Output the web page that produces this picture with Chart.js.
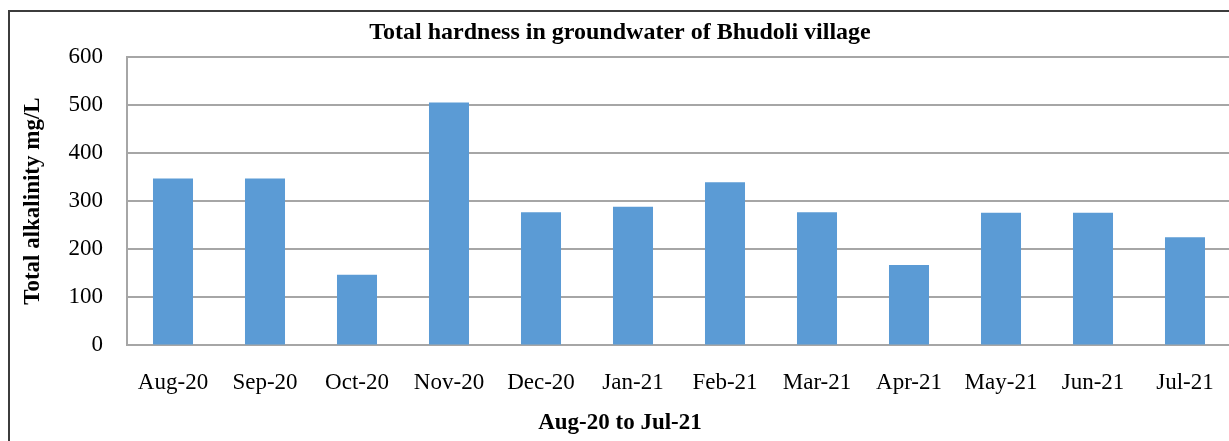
<!DOCTYPE html>
<html>
<head>
<meta charset="utf-8">
<title>Total hardness in groundwater of Bhudoli village</title>
<script src="https://cdn.jsdelivr.net/npm/chart.js@4.4.1/dist/chart.umd.min.js"></script>
<style>
  html, body { margin: 0; padding: 0; background: #fff; overflow: hidden; }
  #wrap { position: absolute; left: 0; top: 0; width: 1248px; height: 441px; }
</style>
</head>
<body>
<div id="wrap"><canvas id="hardnessChart" width="1248" height="441"></canvas></div>
<script>
// data
const months = ["Aug-20", "Sep-20", "Oct-20", "Nov-20", "Dec-20", "Jan-21",
  "Feb-21", "Mar-21", "Apr-21", "May-21", "Jun-21", "Jul-21"];
const hardness = [347, 347, 147, 505, 277, 288, 339, 277, 167, 276, 276, 225];
const yTicks = [0, 100, 200, 300, 400, 500, 600];

const serif = "'Liberation Serif', 'Times New Roman', serif";

// outer frame of the chart
const framePlugin = {
  id: "frame",
  afterDraw(chart) {
    const ctx = chart.ctx;
    ctx.save();
    ctx.strokeStyle = "#3c3c3c";
    ctx.lineWidth = 2;
    ctx.strokeRect(9, 11, 1400, 600);
    ctx.restore();
  },
};

const ctx = document.getElementById("hardnessChart").getContext("2d");
const hardnessChart = new Chart(ctx, {
  type: "bar",
  data: {
    labels: months,
    datasets: [
      {
        label: "Total hardness",
        data: hardness,
        backgroundColor: "#5b9bd5",
        borderWidth: 0,
        categoryPercentage: 1,
        barPercentage: 0.435,
      },
    ],
  },
  options: {
    responsive: false,
    animation: false,
    layout: { padding: { left: 9, right: 17, top: 0, bottom: 0 } },
    plugins: {
      legend: { display: false },
      tooltip: { enabled: false },
      title: {
        display: true,
        text: "Total hardness in groundwater of Bhudoli village",
        color: "#000",
        font: { family: serif, size: 24, weight: "bold" },
        padding: { top: 18, bottom: 10 },
      },
      subtitle: {
        display: true,
        position: "bottom",
        text: "Aug-20 to Jul-21",
        color: "#000",
        font: { family: serif, size: 23, weight: "bold" },
        padding: { top: 0, bottom: 4 },
      },
    },
    scales: {
      x: {
        grid: { display: false, drawTicks: false },
        border: { color: "#a6a6a6", width: 2 },
        ticks: {
          color: "#000",
          font: { family: serif, size: 23 },
          padding: 24,
          maxRotation: 0,
        },
        afterFit(scale) {
          scale.height = 64;
        },
      },
      y: {
        min: 0,
        max: 600,
        afterBuildTicks(scale) {
          scale.ticks = yTicks.map((v) => ({ value: v }));
        },
        grid: { color: "#a6a6a6", lineWidth: 2, drawTicks: false },
        border: { color: "#a6a6a6", width: 2 },
        ticks: {
          color: "#000",
          font: { family: serif, size: 23 },
          padding: 24,
        },
        title: {
          display: true,
          text: "Total alkalinity mg/L",
          color: "#000",
          font: { family: serif, size: 23, weight: "bold" },
          padding: { top: 10, bottom: 0 },
        },
        afterFit(scale) {
          scale.width = 118;
        },
      },
    },
  },
  plugins: [framePlugin],
});
</script>
</body>
</html>
